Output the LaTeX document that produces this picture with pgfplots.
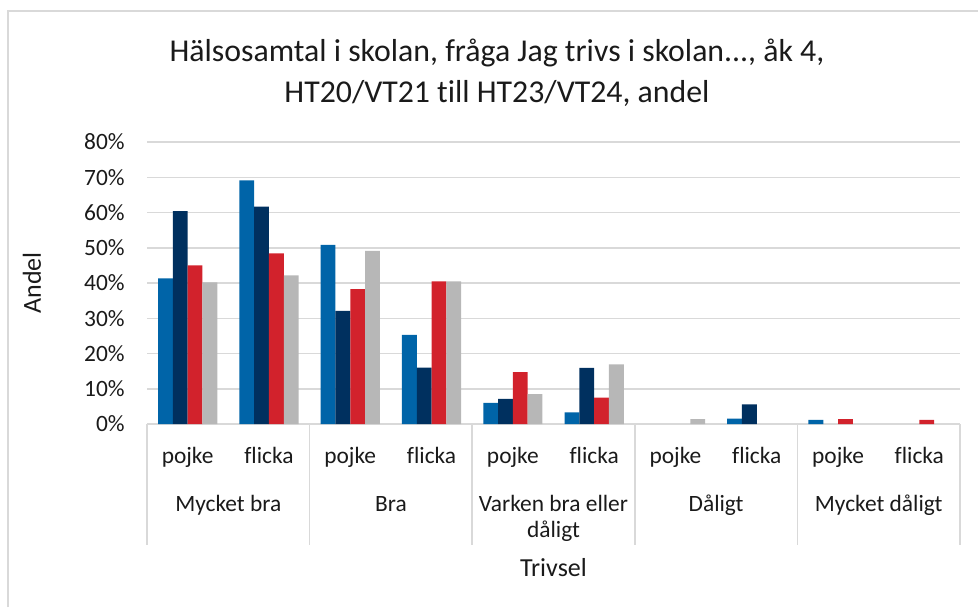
\documentclass[border=0pt]{standalone}
\usepackage{fontspec}
\setmainfont{Carlito}[Ligatures=NoCommon]
\usepackage{pgfplots}
\pgfplotsset{compat=1.18}

\definecolor{serA}{HTML}{0064A8}
\definecolor{serB}{HTML}{00305F}
\definecolor{serC}{HTML}{D2222C}
\definecolor{serD}{HTML}{B7B7B7}
\definecolor{gridgray}{HTML}{D9D9D9}
\definecolor{txt}{HTML}{1A1A1A}

\newcommand{\lab}{\fontsize{11.7}{14}\selectfont}

\begin{document}
\begin{tikzpicture}
\useasboundingbox (-73.5pt,-91.5pt) rectangle (415.5pt,212pt);
\draw[gridgray, line width=0.75pt] (-69.5pt,-91.5pt) -- (-69.5pt,206.5pt) -- (415.5pt,206.5pt);
\begin{axis}[
  at={(0,0)}, anchor=south west, scale only axis,
  width=406.5pt, height=141pt,
  ybar=0pt, bar width=7.4pt,
  xmin=-0.5, xmax=9.5, ymin=0, ymax=80,
  xtick={0,...,9},
  xticklabels={pojke,flicka,pojke,flicka,pojke,flicka,pojke,flicka,pojke,flicka},
  ytick={0,10,...,80},
  yticklabels={0\%,10\%,20\%,30\%,40\%,50\%,60\%,70\%,80\%},
  major tick length=0pt,
  axis line style={draw=none},
  ymajorgrids, grid style={gridgray, line width=0.75pt},
  tick label style={font=\lab, text=txt},
  xticklabel style={anchor=base, yshift=-19.8pt},
  yticklabel style={anchor=east, inner sep=0pt, xshift=-11pt},
  clip=false,
  title={Hälsosamtal i skolan, fråga Jag trivs i skolan..., åk 4,\\HT20/VT21 till HT23/VT24, andel},
  every axis title/.style={at={(rel axis cs:0.4305,1)}, anchor=center,
    yshift=34.75pt, align=center, text=txt,
    font=\fontsize{15.9}{20.5}\selectfont},
  ylabel={Andel},
  every axis y label/.style={at={(rel axis cs:0,0.5)}, xshift=-57.5pt,
    rotate=90, anchor=center, text=txt, font=\fontsize{13}{15}\selectfont},
  xlabel={Trivsel},
  every axis x label/.style={at={(rel axis cs:0.5,0)}, yshift=-72pt,
    anchor=center, text=txt, font=\fontsize{13}{15}\selectfont},
]
% HT20/VT21 (zero shares left out)
\addplot[fill=serA, draw=none] coordinates
  {(0,41.3)(1,69.1)(2,50.8)(3,25.3)(4,6.0)(5,3.3)(7,1.5)(8,1.2)};
% HT21/VT22
\addplot[fill=serB, draw=none] coordinates
  {(0,60.4)(1,61.7)(2,32.1)(3,16.0)(4,7.1)(5,15.9)(7,5.6)};
% HT22/VT23
\addplot[fill=serC, draw=none] coordinates
  {(0,45.0)(1,48.4)(2,38.3)(3,40.5)(4,14.7)(5,7.5)(8,1.4)(9,1.2)};
% HT23/VT24
\addplot[fill=serD, draw=none] coordinates
  {(0,40.2)(1,42.2)(2,49.1)(3,40.5)(4,8.5)(5,16.9)(6,1.4)};

% separators of the category groups
\draw[gridgray, line width=0.75pt]
  (axis cs:-0.5,0) -- ([yshift=-60.5pt]axis cs:-0.5,0)
  (axis cs:1.5,0) -- ([yshift=-60.5pt]axis cs:1.5,0)
  (axis cs:3.5,0) -- ([yshift=-60.5pt]axis cs:3.5,0)
  (axis cs:5.5,0) -- ([yshift=-60.5pt]axis cs:5.5,0)
  (axis cs:7.5,0) -- ([yshift=-60.5pt]axis cs:7.5,0)
  (axis cs:9.5,0) -- ([yshift=-60.5pt]axis cs:9.5,0);
\path[every node/.style={anchor=base, font=\lab, text=txt, yshift=-43.5pt}]
  (axis cs:0.5,0) node {Mycket bra}
  (axis cs:2.5,0) node {Bra}
  (axis cs:4.5,0) node {Varken bra eller}
  (axis cs:6.5,0) node {Dåligt}
  (axis cs:8.5,0) node {Mycket dåligt};
\path (axis cs:4.5,0) node[anchor=base, font=\lab, text=txt, yshift=-56.5pt] {dåligt};
\end{axis}
\end{tikzpicture}
\end{document}
